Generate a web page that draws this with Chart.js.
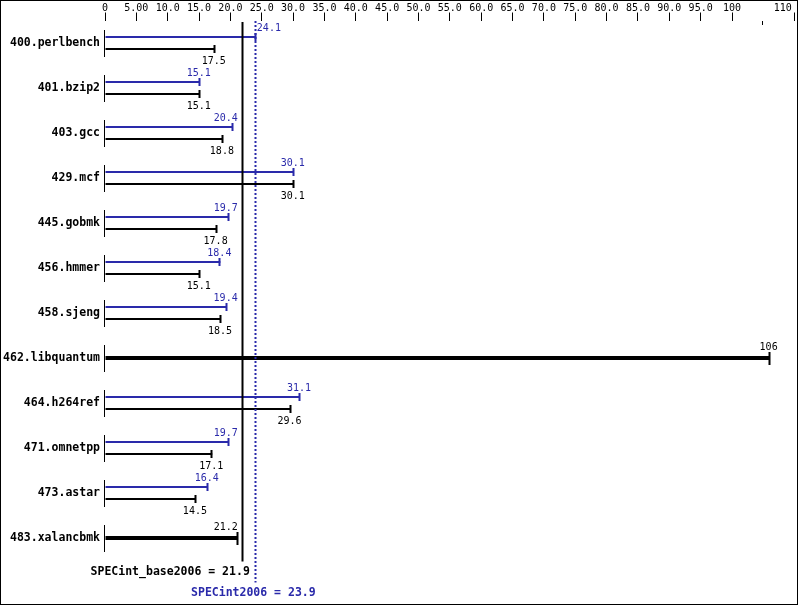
<!DOCTYPE html>
<html>
<head>
<meta charset="utf-8">
<script src="https://cdn.jsdelivr.net/npm/chart.js@4/dist/chart.umd.min.js"></script>
<style>
  html, body { margin: 0; padding: 0; background: #ffffff; }
  #wrap { width: 799px; height: 606px; }
</style>
</head>
<body>
<div id="wrap"><canvas id="c" width="799" height="606"></canvas></div>
<script>
// ---- data ----
const benchmarks = ['400.perlbench','401.bzip2','403.gcc','429.mcf','445.gobmk','456.hmmer',
  '458.sjeng','462.libquantum','464.h264ref','471.omnetpp','473.astar','483.xalancbmk'];
const peakRatios = [24.1, 15.1, 20.4, 30.1, 19.7, 18.4, 19.4, null, 31.1, 19.7, 16.4, null];
const baseRatios = [17.5, 15.1, 18.8, 30.1, 17.8, 15.1, 18.5, null, 29.6, 17.1, 14.5, null];
const sameRatios = [null, null, null, null, null, null, null, 106, null, null, null, 21.2];
const xTickLabels = ['0','5.00','10.0','15.0','20.0','25.0','30.0','35.0','40.0','45.0','50.0',
  '55.0','60.0','65.0','70.0','75.0','80.0','85.0','90.0','95.0','100','','110'];
const baseMean = 21.9;
const peakMean = 23.9;
const baseMeanLabel = 'SPECint_base2006 = 21.9';
const peakMeanLabel = 'SPECint2006 = 23.9';

const MONO = '"DejaVu Sans Mono", "Liberation Mono", monospace';
const BLUE = '#2a2aaa';
const BLACK = '#000000';

function fmt(v) { return v >= 100 ? v.toFixed(0) : v.toFixed(1); }

const specPlugin = {
  id: 'spec',
  afterDatasetsDraw(chart) {
    const ctx = chart.ctx;
    const xs = chart.scales.x, ys = chart.scales.y;
    const area = chart.chartArea;
    const x0 = xs.getPixelForValue(0);
    const bx = xs.getPixelForValue(baseMean);
    const px = xs.getPixelForValue(peakMean);
    ctx.save();

    // left row markers
    ctx.fillStyle = BLACK;
    benchmarks.forEach((b, i) => {
      const y = ys.getPixelForValue(i);
      ctx.fillRect(Math.round(x0) - 1, Math.round(y - 13.5), 1, 27);
    });

    // end caps
    const capInfo = [
      { ds: 0, color: BLUE, h: 8 },
      { ds: 1, color: BLACK, h: 8 },
      { ds: 2, color: BLACK, h: 13 }
    ];
    capInfo.forEach(ci => {
      const meta = chart.getDatasetMeta(ci.ds);
      const vals = chart.data.datasets[ci.ds].data;
      meta.data.forEach((el, j) => {
        if (vals[j] == null) return;
        const p = el.getProps(['x', 'y'], true);
        ctx.fillStyle = ci.color;
        ctx.fillRect(Math.round(p.x) - 1.5, Math.round(p.y - ci.h / 2), 2, ci.h);
      });
    });

    // mean lines (pixel aligned)
    const bxr = Math.round(bx) + 0.5;
    const pxr = Math.round(px) + 0.5;
    ctx.strokeStyle = BLACK;
    ctx.lineWidth = 2;
    ctx.beginPath();
    ctx.moveTo(bxr, Math.round(area.top) + 1);
    ctx.lineTo(bxr, area.bottom + 1);
    ctx.stroke();
    ctx.strokeStyle = BLUE;
    ctx.setLineDash([2, 2]);
    ctx.beginPath();
    ctx.moveTo(pxr, Math.round(area.top));
    ctx.lineTo(pxr, area.bottom + 22);
    ctx.stroke();
    ctx.setLineDash([]);

    // value labels with mean-line avoidance
    ctx.font = '10px ' + MONO;
    ctx.textAlign = 'left';
    ctx.textBaseline = 'alphabetic';
    const zones = [[bx - 4.5, bx + 2], [px - 4.5, px + 2]];
    function overlaps(l, r) { return zones.some(z => l < z[1] && r > z[0]); }
    function placeX(cx, w) {
      let l = cx - w / 2;
      if (!overlaps(l, l + w)) return l;
      let best = null;
      zones.forEach(z => {
        [z[0] - w, z[1]].forEach(cand => {
          if (!overlaps(cand, cand + w)) {
            if (best === null || Math.abs(cand - l) < Math.abs(best - l)) best = cand;
          }
        });
      });
      return best === null ? l : best;
    }
    const labelInfo = [
      { ds: 0, color: BLUE, dy: -6.4 },
      { ds: 1, color: BLACK, dy: 14.6 },
      { ds: 2, color: BLACK, dy: -8 }
    ];
    labelInfo.forEach(li => {
      const meta = chart.getDatasetMeta(li.ds);
      const vals = chart.data.datasets[li.ds].data;
      meta.data.forEach((el, j) => {
        const v = vals[j];
        if (v == null) return;
        const p = el.getProps(['x', 'y'], true);
        const t = fmt(v);
        const w = ctx.measureText(t).width;
        const lx = placeX(p.x - 1, w);
        ctx.fillStyle = li.color;
        ctx.fillText(t, lx, p.y + li.dy);
      });
    });

    // mean labels
    ctx.font = 'bold 11.5px ' + MONO;
    ctx.fillStyle = BLACK;
    ctx.textAlign = 'right';
    ctx.fillText(baseMeanLabel, bx + 7.5, 574.5);
    ctx.fillStyle = BLUE;
    ctx.textAlign = 'center';
    ctx.fillText(peakMeanLabel, px - 1.5, 595.5);

    // short minor tick at 105
    ctx.fillStyle = BLACK;
    ctx.fillRect(Math.round(xs.getPixelForValue(105)) - 1, 21, 1, 4);

    // frame
    ctx.strokeStyle = BLACK;
    ctx.lineWidth = 1;
    ctx.strokeRect(0.5, 0.5, 797, 604);
    ctx.restore();
  }
};

new Chart(document.getElementById('c'), {
  type: 'bar',
  data: {
    labels: benchmarks,
    datasets: [
      { label: 'peak', data: peakRatios, backgroundColor: BLUE, borderWidth: 0 },
      { label: 'base', data: baseRatios, backgroundColor: BLACK, borderWidth: 0 },
      { label: 'same', data: sameRatios, backgroundColor: BLACK, borderWidth: 0 }
    ]
  },
  options: {
    indexAxis: 'y',
    responsive: false,
    animation: false,
    events: [],
    skipNull: true,
    categoryPercentage: 24 / 45,
    barPercentage: 1 / 6,
    layout: { padding: { top: 0, left: 0, right: 4.3, bottom: 45.5 } },
    plugins: { legend: { display: false }, tooltip: { enabled: false } },
    scales: {
      x: {
        position: 'top',
        min: 0,
        max: 110,
        afterBuildTicks(scale) {
          scale.ticks = xTickLabels.map((_, i) => ({ value: i * 5 }));
        },
        afterFit(scale) {
          scale.height = 20.5;
          scale.paddingLeft = 0;
          scale.paddingRight = 0;
        },
        ticks: {
          autoSkip: false,
          maxRotation: 0,
          minRotation: 0,
          padding: -2,
          color: BLACK,
          font: { family: MONO, size: 10 },
          // last label is padded so it stays inside the frame
          callback: (v, i, arr) => (i === arr.length - 1 ? xTickLabels[i] + '    ' : xTickLabels[i])
        },
        grid: {
          drawOnChartArea: false,
          drawTicks: true,
          tickLength: 8,
          tickWidth: 1,
          tickColor: (c) => (c.tick && c.tick.value === 105) ? 'rgba(0,0,0,0)' : BLACK
        },
        border: { display: false }
      },
      y: {
        type: 'category',
        afterFit(scale) { scale.width = 105; },
        ticks: {
          padding: 5,
          color: BLACK,
          font: { family: MONO, size: 11.5, weight: 'bold' }
        },
        grid: { display: false, drawTicks: false },
        border: { display: false }
      }
    }
  },
  plugins: [specPlugin]
});
</script>
</body>
</html>
